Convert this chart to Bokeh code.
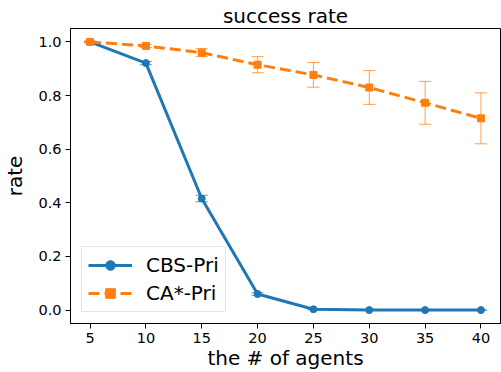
from bokeh.plotting import figure
from bokeh.models import (ColumnDataSource, Whisker, TeeHead, FixedTicker, Range1d,
                          Legend, LegendItem, NumeralTickFormatter)
from bokeh.embed import file_html
from bokeh.resources import INLINE

agents = [5, 10, 15, 20, 25, 30, 35, 40]
cbs_rate = [1.0, 0.921, 0.416, 0.060, 0.003, 0.0, 0.0, 0.0]
cbs_err = [0.0, 0.006, 0.012, 0.005, 0.002, 0.0, 0.0, 0.0]
ca_rate = [1.0, 0.985, 0.960, 0.915, 0.877, 0.830, 0.773, 0.715]
ca_err = [0.004, 0.006, 0.015, 0.030, 0.046, 0.063, 0.080, 0.095]
x_ticks = [5, 10, 15, 20, 25, 30, 35, 40]
y_ticks = [0.0, 0.2, 0.4, 0.6, 0.8, 1.0]

BLUE = "#1f77b4"
ORANGE = "#ff7f0e"
FONT = "DejaVu Sans"

p = figure(width=501, height=372, output_backend="svg", toolbar_location=None,
           x_range=Range1d(3.25, 41.75), y_range=Range1d(-0.05, 1.05),
           min_border_left=68, min_border_right=1, min_border_top=26, min_border_bottom=48)

p.title.text = "success rate"
p.title.align = "center"
p.title.text_font = FONT
p.title.text_font_size = "20px"
p.title.text_font_style = "normal"
p.title.text_color = "black"
p.title.standoff = 2
p.title.offset = 0

p.grid.visible = False
p.outline_line_color = "black"
p.outline_line_width = 1
p.background_fill_color = "white"
p.border_fill_color = "white"

for ax in (p.xaxis[0], p.yaxis[0]):
    ax.axis_label_text_font = FONT
    ax.axis_label_text_font_size = "20px"
    ax.axis_label_text_font_style = "normal"
    ax.axis_label_text_color = "black"
    ax.major_label_text_font = FONT
    ax.major_label_text_font_size = "14.5px"
    ax.major_label_text_color = "black"
    ax.major_tick_out = 5
    ax.major_tick_in = 0
    ax.minor_tick_out = 0
    ax.minor_tick_in = 0
    ax.axis_line_color = "black"
    ax.major_tick_line_color = "black"

p.xaxis.axis_label = "the # of agents"
p.yaxis.axis_label = "rate"
p.xaxis.ticker = FixedTicker(ticks=x_ticks)
p.yaxis.ticker = FixedTicker(ticks=y_ticks)
p.yaxis.formatter = NumeralTickFormatter(format="0.0")
p.xaxis.major_label_standoff = 4
p.yaxis.major_label_standoff = 4
p.yaxis.axis_label_standoff = 8
p.xaxis.axis_label_standoff = 0

cbs_src = ColumnDataSource(dict(x=agents, y=cbs_rate,
                                lo=[v - e for v, e in zip(cbs_rate, cbs_err)],
                                hi=[v + e for v, e in zip(cbs_rate, cbs_err)]))
ca_src = ColumnDataSource(dict(x=agents, y=ca_rate,
                               lo=[v - e for v, e in zip(ca_rate, ca_err)],
                               hi=[v + e for v, e in zip(ca_rate, ca_err)]))

for src, col in ((cbs_src, BLUE), (ca_src, ORANGE)):
    w = Whisker(source=src, base="x", lower="lo", upper="hi",
                line_color=col, line_width=1, line_alpha=0.75,
                upper_head=TeeHead(size=12, line_color=col, line_width=1, line_alpha=0.75),
                lower_head=TeeHead(size=12, line_color=col, line_width=1, line_alpha=0.75))
    p.add_layout(w)

l1 = p.line("x", "y", source=cbs_src, line_color=BLUE, line_width=3)
m1 = p.scatter("x", "y", source=cbs_src, marker="circle", size=7, fill_color=BLUE, line_color=BLUE)
l2 = p.line("x", "y", source=ca_src, line_color=ORANGE, line_width=3, line_dash="11 5")
m2 = p.scatter("x", "y", source=ca_src, marker="square", size=7, fill_color=ORANGE, line_color=ORANGE)

legend = Legend(items=[LegendItem(label="CBS-Pri", renderers=[l1, m1]),
                       LegendItem(label="CA*-Pri", renderers=[l2, m2])],
                location="bottom_left")
legend.margin = 11
legend.padding = 6
legend.spacing = 4
legend.glyph_width = 44
legend.glyph_height = 24
legend.label_height = 24
legend.label_standoff = 14
legend.label_text_font = FONT
legend.label_text_font_size = "20px"
legend.label_text_color = "black"
legend.border_line_color = "#cccccc"
legend.border_line_width = 1
legend.background_fill_alpha = 0.8
p.add_layout(legend)

open("out.html", "w").write(file_html(p, INLINE))
